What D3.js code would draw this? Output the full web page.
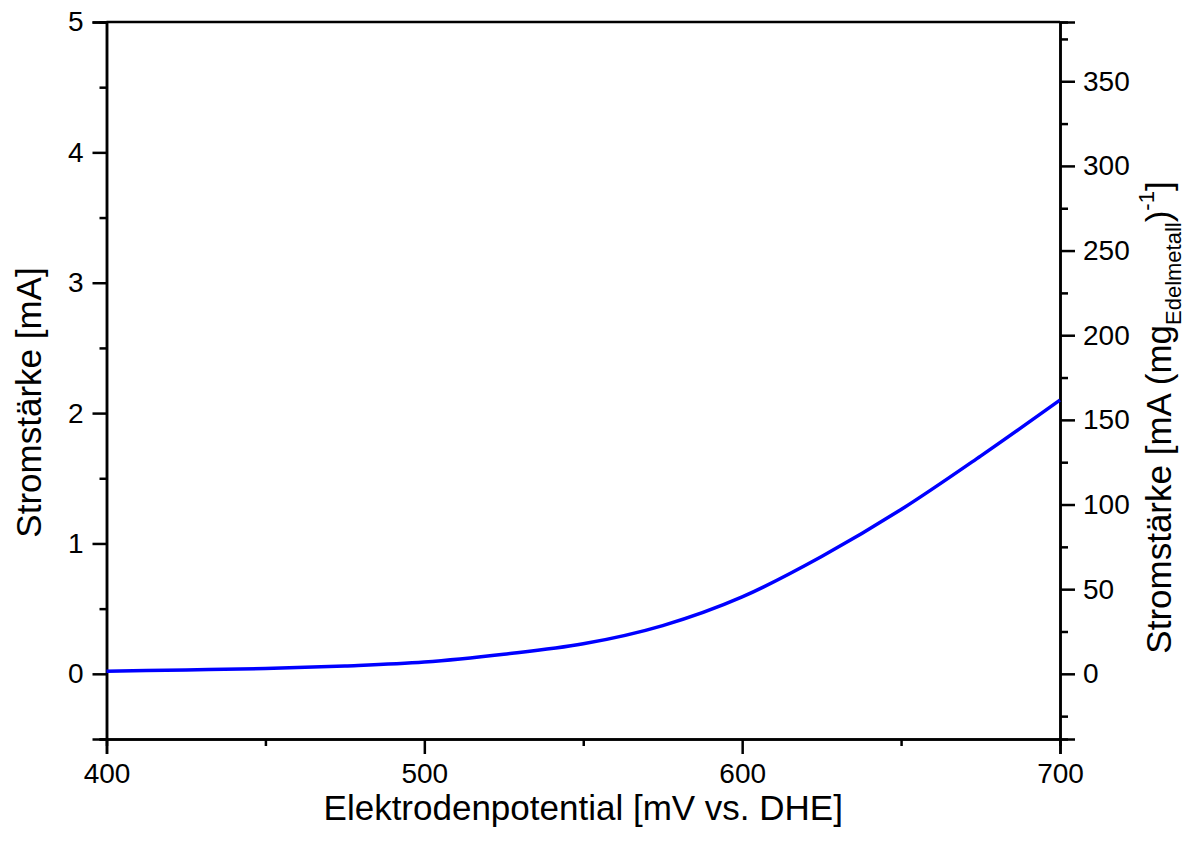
<!DOCTYPE html>
<html>
<head>
<meta charset="utf-8">
<script src="https://cdn.jsdelivr.net/npm/d3@7"></script>
<style>
  body { margin: 0; background: #fff; }
  text { font-family: "Liberation Sans", Arial, sans-serif; fill: #000; }
</style>
</head>
<body>
<div id="chart"></div>
<script>
// potential [mV vs. DHE] and current [mA]
var potential = [400, 425, 450, 475, 500, 525, 550, 575, 600, 625, 650, 675, 700];
var current   = [0.02, 0.03, 0.04, 0.06, 0.09, 0.15, 0.23, 0.37, 0.59, 0.90, 1.26, 1.67, 2.10];
var xTicks = [400, 500, 600, 700];
var yTicks = [0, 1, 2, 3, 4, 5];
var y2Ticks = [0, 50, 100, 150, 200, 250, 300, 350];
var massFactor = 77; // mA -> mA (mg Edelmetall)^-1

var W = 1189, H = 848;
var margin = {top: 22, right: 129, bottom: 109, left: 106.5},
    width = W - margin.left - margin.right,
    height = H - margin.top - margin.bottom;

var svg = d3.select("#chart")
  .append("svg")
    .attr("width", W)
    .attr("height", H)
  .append("g")
    .attr("transform", "translate(" + margin.left + "," + margin.top + ")");

var x = d3.scaleLinear().domain([400, 700]).range([0, width]);
var y = d3.scaleLinear().domain([-0.5, 5]).range([height, 0]);
var y2 = d3.scaleLinear().domain([-0.5 * massFactor, 5 * massFactor]).range([height, 0]);

function styleAxis(g) {
  g.select(".domain").attr("stroke", "#000").attr("stroke-width", 2.5);
  g.selectAll(".tick line").attr("stroke", "#000").attr("stroke-width", 2.5);
  g.selectAll("text").style("font-size", "28px");
}

// minor ticks first
svg.append("g")
  .attr("transform", "translate(0," + height + ")")
  .call(d3.axisBottom(x).tickValues([450, 550, 650]).tickSize(7).tickFormat(""))
  .call(styleAxis);
svg.append("g")
  .call(d3.axisLeft(y).tickValues([-0.5, 0.5, 1.5, 2.5, 3.5, 4.5]).tickSize(7).tickFormat(""))
  .call(styleAxis);
svg.append("g")
  .attr("transform", "translate(" + width + ",0)")
  .call(d3.axisRight(y2).tickValues([-25, 25, 75, 125, 175, 225, 275, 325, 375]).tickSize(8).tickFormat(""))
  .call(styleAxis);

// major ticks
svg.append("g")
  .attr("transform", "translate(0," + height + ")")
  .call(d3.axisBottom(x).tickValues(xTicks).tickSize(15).tickPadding(9).tickFormat(d3.format("d")))
  .call(styleAxis);
svg.append("g")
  .call(d3.axisLeft(y).tickValues(yTicks).tickSize(14).tickPadding(9).tickFormat(d3.format("d")))
  .call(styleAxis);
svg.append("g")
  .attr("transform", "translate(" + width + ",0)")
  .call(d3.axisRight(y2).tickValues(y2Ticks).tickSize(15).tickPadding(8).tickFormat(d3.format("d")))
  .call(styleAxis);

// top frame
svg.append("line")
  .attr("x1", 0).attr("x2", width)
  .attr("y1", 0).attr("y2", 0)
  .attr("stroke", "#000").attr("stroke-width", 2.5);

var pts = potential.map(function(d, i) { return [d, current[i]]; });
svg.append("path")
  .datum(pts)
  .attr("fill", "none")
  .attr("stroke", "#0000ff")
  .attr("stroke-width", 3.5)
  .attr("d", d3.line()
    .x(function(d) { return x(d[0]); })
    .y(function(d) { return y(d[1]); })
    .curve(d3.curveMonotoneX));

// axis titles
svg.append("text")
  .attr("x", width / 2)
  .attr("y", height + 81)
  .attr("text-anchor", "middle")
  .style("font-size", "35px")
  .text("Elektrodenpotential [mV vs. DHE]");

svg.append("text")
  .attr("transform", "translate(" + (-65.5) + "," + (height / 2 + 22) + ")rotate(-90)")
  .attr("text-anchor", "middle")
  .style("font-size", "35px")
  .text("Stromstärke [mA]");

var t2 = svg.append("text")
  .attr("transform", "translate(" + (width + 111) + "," + (height / 2 + 37) + ")rotate(-90)")
  .attr("text-anchor", "middle")
  .style("font-size", "35px");
t2.append("tspan").text("Stromstärke [mA (mg");
t2.append("tspan").attr("dy", 10).style("font-size", "22px").text("Edelmetall");
t2.append("tspan").attr("dy", -10).text(")");
t2.append("tspan").attr("dy", -17).style("font-size", "22px").text("-1");
t2.append("tspan").attr("dy", 17).text("]");
</script>
</body>
</html>
